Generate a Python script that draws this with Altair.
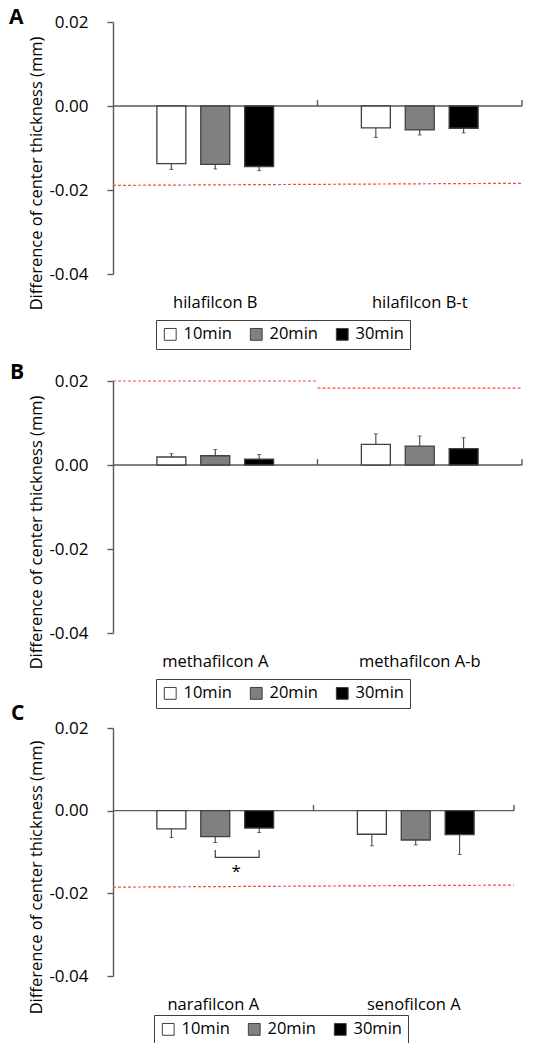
import altair as alt
import pandas as pd

SERIES = ["10min", "20min", "30min"]
FILLS = ["#ffffff", "#808080", "#000000"]
Y_TICKS = [-0.04, -0.02, 0.0, 0.02]
Y_TITLE = "Difference of center thickness (mm)"

# Panel A
A_CATS = ["hilafilcon B", "hilafilcon B-t"]
A_10 = [-0.0137, -0.0052]
A_20 = [-0.0139, -0.0057]
A_30 = [-0.0144, -0.0053]
A_E10 = [0.0014, 0.0023]
A_E20 = [0.0011, 0.0012]
A_E30 = [0.0010, 0.0011]
A_REF = [-0.0189, -0.0184]          # dashed line: left end, right end

# Panel B
B_CATS = ["methafilcon A", "methafilcon A-b"]
B_10 = [0.0019, 0.0049]
B_20 = [0.0022, 0.0045]
B_30 = [0.0014, 0.0039]
B_E10 = [0.0008, 0.0025]
B_E20 = [0.0015, 0.0024]
B_E30 = [0.0011, 0.0026]
B_REF = [0.0200, 0.0183]            # dashed segment per category

# Panel C
C_CATS = ["narafilcon A", "senofilcon A"]
C_10 = [-0.0044, -0.0057]
C_20 = [-0.0063, -0.0071]
C_30 = [-0.0042, -0.0058]
C_E10 = [0.0021, 0.0028]
C_E20 = [0.0014, 0.0012]
C_E30 = [0.0011, 0.0048]
C_REF = [-0.0185, -0.0180]
C_BRACKET = [-0.0095, -0.0113]      # 20min vs 30min of narafilcon A
C_STAR_Y = -0.0148

FONT = "Open Sans"
AX = "#595959"
RED = "#ff4a4a"


def panel(letter, cats, means, errs, ref, ref_mode, width, height,
          legend_x, legend_y, title_dx, title_offset, bracket=None):
    rows = []
    for s, mlist, elist in zip(SERIES, means, errs):
        for c, m, e in zip(cats, mlist, elist):
            rows.append({"cat": c, "series": s, "mean": m,
                         "end": m + e if m >= 0 else m - e})
    df = pd.DataFrame(rows)

    xsc = alt.Scale(domain=cats, paddingInner=0, paddingOuter=0)
    ysc = alt.Scale(domain=[-0.04, 0.02], nice=False)
    osc = alt.Scale(domain=SERIES, paddingInner=0.34, paddingOuter=1.0)

    xax = alt.Axis(title=None, domain=False, ticks=False,
                   labelAngle=0, labelPadding=20,
                   labelFontSize=16.5, labelColor="#000", labelFont=FONT)
    yax = alt.Axis(values=Y_TICKS, grid=False,
                   labelExpr="datum.value < 0 ? '-' + format(-datum.value, '.2f') : format(datum.value, '.2f')",
                   domainColor=AX, domainWidth=1.4,
                   tickColor=AX, tickWidth=1.4, tickSize=6,
                   labelPadding=19, labelFontSize=17,
                   labelColor="#000", labelFont=FONT,
                   title=Y_TITLE, titleFontSize=16.5,
                   titleFont=FONT, titleFontWeight="normal",
                   titleColor="#000", titlePadding=4,
                   titleY=height / 2 + 25)

    def X(f, **kw):
        return alt.X(f, scale=xsc, axis=xax, **kw)

    def Y(f, **kw):
        return alt.Y(f, scale=ysc, axis=yax, **kw)

    layers = []

    # red dashed reference lines
    if ref_mode == "span":
        rdf = pd.DataFrame({"c0": [cats[0]], "c1": [cats[1]],
                            "v0": [ref[0]], "v1": [ref[1]]})
        layers.append(alt.Chart(rdf).mark_rule(
            color=RED, strokeDash=[3, 2], strokeWidth=1.2).encode(
            x=X("c0:N", bandPosition=0),
            x2=alt.X2("c1:N", bandPosition=1),
            y=Y("v0:Q"),
            y2="v1:Q"))
    else:
        rdf = pd.DataFrame({"cat": cats, "v": ref})
        layers.append(alt.Chart(rdf).mark_rule(
            color=RED, strokeDash=[3, 2], strokeWidth=1.2).encode(
            x=X("cat:N", bandPosition=0),
            x2=alt.X2("cat:N", bandPosition=1),
            y=Y("v:Q")))

    # zero line
    layers.append(alt.Chart(pd.DataFrame({"z": [0.0]})).mark_rule(
        color=AX, strokeWidth=1.4).encode(y=Y("z:Q")))

    # category boundary ticks on the zero line
    tdf = pd.DataFrame({"cat": cats, "y0": [0.0, 0.0], "y1": [0.0014, 0.0014]})
    layers.append(alt.Chart(tdf).mark_rule(color=AX, strokeWidth=1.4).encode(
        x=X("cat:N", bandPosition=1),
        y=Y("y0:Q"),
        y2="y1:Q"))

    base = alt.Chart(df)
    # error bars
    layers.append(base.mark_rule(color="#333333", strokeWidth=1).encode(
        x=X("cat:N"),
        xOffset=alt.XOffset("series:N", scale=osc),
        y=Y("mean:Q"),
        y2="end:Q"))
    layers.append(base.mark_tick(color="#333333", size=4, thickness=1).encode(
        x=X("cat:N"),
        xOffset=alt.XOffset("series:N", scale=osc),
        y=Y("end:Q")))

    # bars
    layers.append(base.mark_bar(stroke="#404040", strokeWidth=1.3).encode(
        x=X("cat:N"),
        xOffset=alt.XOffset("series:N", scale=osc),
        y=Y("mean:Q", stack=None),
        y2=alt.datum(0),
        fill=alt.Fill("series:N",
                      scale=alt.Scale(domain=SERIES, range=FILLS),
                      legend=alt.Legend(orient="none", legendX=legend_x,
                                        legendY=legend_y,
                                        direction="horizontal", title=None,
                                        symbolType="square", symbolSize=140,
                                        symbolStrokeColor="#404040",
                                        symbolStrokeWidth=1,
                                        labelFontSize=16.5, labelColor="#000",
                                        labelFont=FONT, labelOffset=5,
                                        columnPadding=16,
                                        strokeColor="#404040", padding=6,
                                        fillColor="white"))))

    if bracket is not None:
        bdf = pd.DataFrame({"cat": [cats[0]] * 4,
                            "series": ["20min", "20min", "30min", "30min"],
                            "y": [bracket[0], bracket[1], bracket[1], bracket[0]],
                            "o": [0, 1, 2, 3]})
        layers.append(alt.Chart(bdf).mark_line(color="#404040", strokeWidth=1.2).encode(
            x=X("cat:N"),
            xOffset=alt.XOffset("series:N", scale=osc),
            y=Y("y:Q"),
            order="o:Q"))
        sdf = pd.DataFrame({"cat": [cats[0]], "series": ["20min"], "y": [C_STAR_Y]})
        layers.append(alt.Chart(sdf).mark_text(
            text="*", fontSize=17, font=FONT, dx=21, baseline="middle", color="#000").encode(
            x=X("cat:N"),
            xOffset=alt.XOffset("series:N", scale=osc),
            y=Y("y:Q")))

    return alt.layer(*layers).properties(
        width=width, height=height,
        title=alt.TitleParams(text=letter, anchor="start", frame="group",
                              dx=title_dx, offset=title_offset,
                              baseline="alphabetic", fontSize=21,
                              fontWeight="bold", font=FONT, color="#000"))


pa = panel("A", A_CATS, [A_10, A_20, A_30], [A_E10, A_E20, A_E30],
           A_REF, "span", 409, 252, 43, 298, -104, -32)
pb = panel("B", B_CATS, [B_10, B_20, B_30], [B_E10, B_E20, B_E30],
           B_REF, "per", 409, 252, 43, 298, -103, -28)
pc = panel("C", C_CATS, [C_10, C_20, C_30], [C_E10, C_E20, C_E30],
           C_REF, "span", 401, 248, 41, 287, -102, -22, bracket=C_BRACKET)

top = alt.vconcat(pa, pb, spacing=12).resolve_scale(
    fill="independent").resolve_legend(fill="independent")
chart = alt.vconcat(top, pc, spacing=-6).resolve_scale(
    fill="independent").resolve_legend(fill="independent").properties(
    padding={"left": 9, "top": 7, "right": 0, "bottom": 0}
).configure(font=FONT).configure_view(stroke=None)

chart.save("out.html", embed_options={"renderer": "svg", "actions": False})
